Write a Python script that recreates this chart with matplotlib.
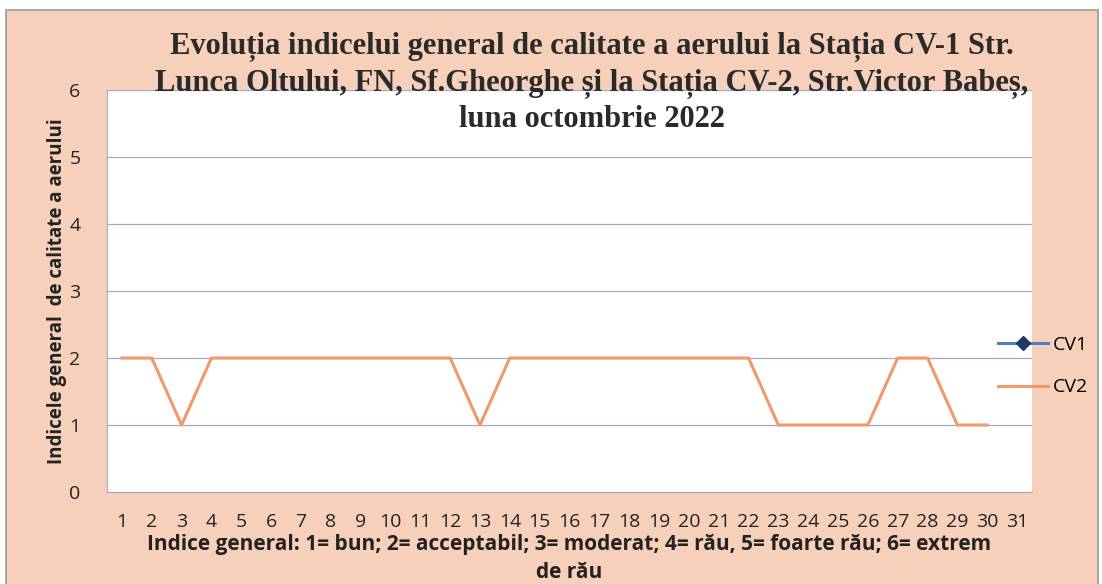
import matplotlib.pyplot as plt
import matplotlib.patches as patches
import numpy as np

# zilele lunii si indicii
zile = list(range(1, 32))
cv1 = [np.nan] * 31
cv2 = [2, 2, 1, 2, 2, 2, 2, 2, 2, 2, 2, 2, 1, 2, 2, 2, 2, 2, 2, 2, 2, 2,
       1, 1, 1, 1, 2, 2, 1, 1, np.nan]
y_ticks = [0, 1, 2, 3, 4, 5, 6]

titlu = ("Evoluția indicelui general de calitate a aerului la Stația CV-1 Str.\n"
         "Lunca Oltului, FN, Sf.Gheorghe și la Stația CV-2, Str.Victor Babeș,\n"
         "luna octombrie 2022")
eticheta_y = "Indicele general  de calitate a aerului"
eticheta_x = ("Indice general: 1= bun; 2= acceptabil; 3= moderat; 4= rău, 5= foarte rău; 6= extrem\n"
              "de rău")

fig = plt.figure(figsize=(11.02, 5.84), dpi=100, facecolor='white')
# fundalul piersica al diagramei
fundal = patches.Rectangle((6/1102, -0.05), 1092/1102, 1 - 10/584 + 0.05,
                           transform=fig.transFigure, facecolor='#F7D0BC',
                           edgecolor='#9A9A9A', linewidth=1.2, zorder=-10)
fig.add_artist(fundal)

ax = fig.add_axes([107/1102, 1 - 492/584, 925/1102, 402/584])
ax.set_facecolor('white')
ax.plot(zile, cv1, color='#4A7EC8', linewidth=2.2, marker='D', markersize=7,
        markerfacecolor='#1F3864', markeredgecolor='#1F3864', label='CV1')
ax.plot(zile, cv2, color='#F4976A', linewidth=2.2, label='CV2')

ax.set_xlim(0.5, 31.5)
ax.set_ylim(0, 6)
ax.set_yticks(y_ticks)
ax.set_xticks(zile)
ax.grid(axis='y', color='#A8A8C4', linewidth=0.9)
ax.set_axisbelow(True)
for s in ['top', 'right']:
    ax.spines[s].set_visible(False)
for s in ['left', 'bottom']:
    ax.spines[s].set_color('#A8A8C4')
ax.tick_params(length=0, labelsize=14, colors='#222222')
ax.tick_params(axis='y', pad=19)
ax.tick_params(axis='x', pad=15)
for lbl in ax.get_xticklabels() + ax.get_yticklabels():
    lbl.set_fontfamily('Open Sans')

ax.set_ylabel(eticheta_y, fontsize=13.5, fontweight='bold', family='Open Sans',
              color='#222222', labelpad=2)
ax.set_xlabel(eticheta_x, fontsize=15, fontweight='bold', family='Open Sans',
              color='#222222', linespacing=1.45, labelpad=2)

fig.text(0.537, 1 - 32/584, titlu, ha='center', va='top', fontsize=22,
         fontweight='bold', family='Liberation Serif', color='#2A2A2A', linespacing=1.3)

leg = ax.legend(loc='center left', bbox_to_anchor=(0.944, 0.313), frameon=False,
                prop={'family': 'Open Sans', 'size': 14},
                handlelength=2.6, handletextpad=0.25, labelspacing=1.25)

plt.savefig('out.png', dpi=100, facecolor=fig.get_facecolor())
